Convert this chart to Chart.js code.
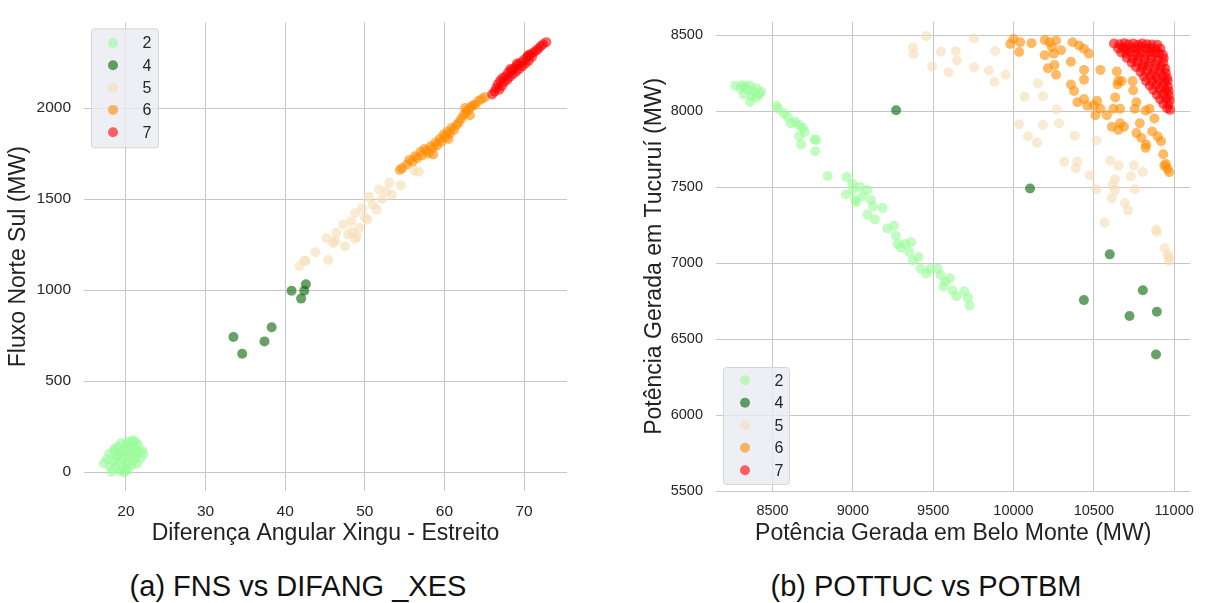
<!DOCTYPE html>
<html>
<head>
<meta charset="utf-8">
<script src="https://cdn.jsdelivr.net/npm/chart.js@4/dist/chart.umd.min.js"></script>
<style>
  body { margin: 0; background: #fff; font-family: "Liberation Sans", Arial, sans-serif; }
  #wrap { position: relative; width: 1205px; height: 603px; overflow: hidden; }
  canvas { position: absolute; top: 0; }
  .caption { position: absolute; top: 572px; font-size: 29px; line-height: 29px; color: #111; white-space: nowrap; transform: translateX(-50%); }
</style>
</head>
<body>
<div id="wrap">
  <canvas id="left" width="600" height="555" style="left:0"></canvas>
  <canvas id="right" width="605" height="555" style="left:600px"></canvas>
  <div class="caption" style="left:298px">(a) FNS vs DIFANG _XES</div>
  <div class="caption" style="left:926px">(b) POTTUC vs POTBM</div>
</div>
<script>
// classes and colours
const classes = ['2', '4', '5', '6', '7'];
const classColors = ['rgba(152,251,152,0.6)', 'rgba(0,100,0,0.6)', 'rgba(245,222,179,0.6)', 'rgba(255,140,0,0.6)', 'rgba(255,0,0,0.6)'];

// (a) [DIFANG_XES, FNS] per class
const fns2 = [[17.2,48],[17.6,70],[17.9,100],[18.0,30],[18.2,0],[18.4,60],[18.5,115],[18.7,25],[18.8,85],[19.0,140],[19.0,50],[19.2,5],[19.3,105],[19.4,160],[19.5,70],[19.6,30],[19.7,125],[19.8,-2],[19.9,90],[20.0,155],[20.1,50],[20.2,115],[20.3,15],[20.4,170],[20.5,80],[20.6,140],[20.7,40],[20.8,105],[20.9,175],[21.0,65],[21.1,130],[21.3,90],[21.4,45],[21.5,150],[21.6,110],[21.8,75],[22.0,120],[22.2,100],[21.2,165],[20.0,10],[18.6,130],[19.1,95]];
const fns4 = [[33.5,742],[34.6,650],[37.4,718],[38.3,796],[40.8,996],[42.0,953],[42.4,996],[42.6,1032]];
const fns5 = [[41.8,1132],[42.4,1163],[42.6,1160],[43.8,1208],[45.4,1165],[45.2,1285],[46.0,1258],[46.4,1315],[47.3,1360],[47.9,1306],[48.3,1378],[48.8,1280],[48.8,1423],[49.3,1342],[49.0,1295],[50.3,1387],[50.5,1512],[51.0,1468],[51.5,1441],[51.8,1552],[52.7,1543],[53.1,1589],[53.4,1525],[54.5,1575],[56.3,1656],[56.8,1650],[47.5,1240],[46.3,1270],[50.0,1400],[49.7,1450],[52.2,1500],[48.4,1320]];
const fns6 = [[54.4,1660],[54.7,1670],[55.3,1690],[55.6,1715],[56.0,1705],[56.3,1735],[56.6,1725],[57.0,1760],[57.2,1740],[57.5,1775],[57.8,1765],[58.0,1750],[58.3,1790],[58.6,1780],[58.9,1810],[59.1,1795],[59.4,1830],[59.6,1815],[59.9,1855],[60.1,1840],[60.4,1870],[60.7,1860],[60.9,1890],[61.2,1880],[61.5,1905],[61.8,1920],[62.1,1940],[62.4,1960],[62.7,1975],[63.0,1990],[63.3,2005],[63.6,2015],[63.9,2020],[64.3,2040],[64.7,2050],[65.1,2060],[62.6,2000],[63.2,1960],[60.5,1830],[58.6,1745]];
const fns7 = [[66.0,2075],[66.3,2090],[66.5,2110],[66.7,2130],[66.9,2100],[67.0,2150],[67.2,2120],[67.3,2165],[67.5,2140],[67.7,2175],[67.9,2155],[68.0,2195],[68.2,2170],[68.4,2205],[68.6,2185],[68.8,2220],[69.0,2200],[69.2,2235],[69.4,2215],[69.6,2250],[69.8,2230],[70.0,2265],[70.2,2245],[70.4,2280],[70.6,2260],[70.8,2295],[71.0,2280],[71.2,2305],[71.5,2315],[71.8,2325],[72.1,2340],[72.4,2350],[72.8,2362],[68.3,2215],[69.1,2245],[70.5,2290]];
const difangTicks = [20, 30, 40, 50, 60, 70];
const fnsTicks = [0, 500, 1000, 1500, 2000];

// (b) [POTBM, POTTUC] per class
const pot2 = [[8268,8166],[8310,8170],[8330,8160],[8358,8168],[8345,8140],[8380,8130],[8400,8150],[8417,8110],[8370,8098],[8320,8110],[8360,8060],[8430,8125],[8300,8150],[8400,8090],[8523,8037],[8535,8015],[8571,7984],[8594,7963],[8613,7920],[8666,7909],[8689,7888],[8666,7834],[8678,7780],[8760,7813],[8772,7810],[8765,7735],[8843,7573],[8961,7567],[8957,7451],[8996,7522],[9043,7501],[9015,7415],[9090,7480],[9113,7415],[9125,7372],[9090,7318],[9137,7286],[9184,7362],[9214,7228],[9256,7245],[9267,7180],[9279,7126],[9326,7126],[9362,7137],[9350,7073],[9409,7040],[9373,7018],[9421,6964],[9456,6931],[9527,6964],[9546,6921],[9575,6878],[9563,6846],[9605,6900],[9645,6782],[9693,6814],[9716,6771],[9726,6720],[9000,7480],[9020,7400],[9060,7440],[8640,7930],[8700,7860],[9300,7100],[9480,6960],[9620,6820]];
const pot4 = [[9269,8005],[10103,7491],[10599,7057],[10805,6821],[10438,6756],[10722,6652],[10892,6679],[10887,6398]];
const pot5 = [[9457,8492],[9374,8419],[9378,8374],[9493,8294],[9548,8391],[9595,8256],[9640,8395],[9648,8333],[9754,8477],[9754,8288],[9846,8267],[9882,8192],[9887,8395],[9951,8239],[10034,7913],[10069,8095],[10090,7834],[10151,8183],[10146,7791],[10183,8098],[10183,7909],[10268,8010],[10284,7920],[10316,7667],[10397,7667],[10381,7838],[10387,7624],[10475,7577],[10518,7806],[10516,7485],[10567,7266],[10603,7674],[10655,7641],[10617,7513],[10631,7481],[10612,7427],[10631,7551],[10693,7395],[10712,7348],[10730,7571],[10749,7641],[10754,7485],[10804,7600],[10887,7219],[10894,7202],[10940,7099],[10966,7037],[10970,7013],[10960,7056]];
const pot6 = [[9980,8442],[10000,8474],[10041,8453],[10035,8389],[10112,8447],[10194,8468],[10224,8453],[10265,8464],[10239,8421],[10194,8368],[10251,8378],[10296,8400],[10214,8282],[10255,8303],[10265,8239],[10357,8325],[10367,8453],[10408,8432],[10439,8410],[10469,8378],[10357,8175],[10377,8132],[10439,8271],[10439,8207],[10398,8058],[10439,8079],[10459,8036],[10500,8036],[10520,8068],[10541,8015],[10510,7972],[10581,7972],[10541,8271],[10643,8261],[10653,8197],[10647,8175],[10673,8197],[10633,8090],[10622,8015],[10663,8015],[10612,7897],[10663,7919],[10688,7897],[10653,7876],[10741,8197],[10745,8137],[10765,8058],[10755,8015],[10786,7919],[10847,8015],[10822,8004],[10877,7951],[10765,7855],[10796,7823],[10826,7780],[10863,7865],[10898,7833],[10918,7801],[10822,7758],[10932,7716],[10949,7652],[10959,7620],[10939,7641],[10969,7598]];
const pot7 = [[10625,8445],[10660,8440],[10690,8447],[10715,8438],[10745,8444],[10775,8436],[10800,8445],[10830,8440],[10860,8438],[10895,8436],[10650,8412],[10682,8418],[10705,8405],[10738,8415],[10768,8408],[10795,8420],[10828,8410],[10855,8415],[10885,8405],[10915,8412],[10670,8385],[10700,8378],[10728,8390],[10760,8375],[10790,8385],[10822,8372],[10850,8388],[10880,8378],[10905,8382],[10930,8370],[10705,8350],[10742,8345],[10778,8355],[10815,8342],[10858,8350],[10898,8340],[10935,8348],[10735,8318],[10772,8322],[10808,8310],[10848,8320],[10888,8312],[10932,8318],[10762,8290],[10800,8285],[10838,8295],[10880,8282],[10918,8290],[10945,8280],[10790,8258],[10830,8262],[10868,8252],[10910,8260],[10948,8250],[10812,8228],[10852,8232],[10890,8222],[10928,8230],[10955,8220],[10825,8198],[10862,8195],[10900,8202],[10940,8192],[10960,8200],[10848,8168],[10888,8172],[10928,8165],[10962,8160],[10870,8138],[10910,8142],[10948,8135],[10966,8130],[10892,8108],[10932,8112],[10968,8100],[10912,8078],[10950,8082],[10972,8070],[10932,8048],[10966,8040],[10955,8018],[10975,8008]];
const potbmTicks = [8500, 9000, 9500, 10000, 10500, 11000];
const pottucTicks = [5500, 6000, 6500, 7000, 7500, 8000, 8500];

const FONT = "'Liberation Sans', Arial, sans-serif";
Chart.defaults.font.family = FONT;
Chart.defaults.color = '#262626';

// seaborn-like framed legend inside the plot area
const boxLegend = {
  id: 'boxLegend',
  afterDatasetsDraw(chart, args, opts) {
    const { ctx, chartArea } = chart;
    const w = opts.w, h = opts.h;
    const x = chartArea.left + 7;
    const y = opts.corner === 'top' ? chartArea.top + 6 : chartArea.bottom - 7 - h;
    ctx.save();
    ctx.beginPath();
    ctx.roundRect(x + 0.5, y + 0.5, w, h, 3);
    ctx.fillStyle = 'rgba(234,234,242,0.8)';
    ctx.fill();
    ctx.strokeStyle = '#d5d5d5';
    ctx.lineWidth = 1;
    ctx.stroke();
    ctx.font = '16px ' + FONT;
    ctx.textAlign = 'center';
    ctx.textBaseline = 'middle';
    chart.data.datasets.forEach((ds, i) => {
      const cy = y + opts.first + i * opts.step;
      ctx.beginPath();
      ctx.arc(x + 22, cy, 5, 0, Math.PI * 2);
      ctx.fillStyle = ds.backgroundColor;
      ctx.fill();
      ctx.fillStyle = '#262626';
      ctx.fillText(ds.label, x + 56, cy + 1);
    });
    ctx.restore();
  }
};

function datasets(groups) {
  return groups.map((pts, i) => ({
    label: classes[i],
    data: pts.map(p => ({ x: p[0], y: p[1] })),
    backgroundColor: classColors[i],
    borderWidth: 0,
    pointRadius: 5,
    order: groups.length - i
  }));
}

function makeChart(id, groups, cfg) {
  new Chart(document.getElementById(id), {
    type: 'scatter',
    data: { datasets: datasets(groups) },
    options: {
      responsive: false,
      animation: false,
      devicePixelRatio: 1,
      layout: { padding: { top: 11, right: cfg.padRight, left: 0, bottom: 0 } },
      plugins: { legend: { display: false }, tooltip: { enabled: false }, boxLegend: cfg.legend },
      scales: {
        x: {
          type: 'linear', min: cfg.xMin, max: cfg.xMax,
          afterBuildTicks: s => { s.ticks = cfg.xTicks.map(v => ({ value: v })); },
          afterFit: s => { s.height = 64; },
          grid: { color: '#c6c6c6', drawTicks: false },
          border: { display: false },
          ticks: { padding: 11, font: { size: cfg.tickSize }, color: '#262626', callback: v => String(v) },
          title: { display: true, text: cfg.xTitle, font: { size: 23 }, color: '#222', padding: { top: 0, bottom: 8 } }
        },
        y: {
          type: 'linear', min: cfg.yMin, max: cfg.yMax,
          afterBuildTicks: s => { s.ticks = cfg.yTicks.map(v => ({ value: v })); },
          afterFit: s => { s.width = cfg.yWidth; },
          grid: { color: '#c6c6c6', drawTicks: false },
          border: { display: false },
          ticks: { padding: 13, font: { size: cfg.tickSize }, color: '#262626', callback: v => String(v) },
          title: { display: true, text: cfg.yTitle, font: { size: 23 }, color: '#222', padding: { top: cfg.yTitlePad, bottom: 0 } }
        }
      }
    },
    plugins: [boxLegend]
  });
}

makeChart('left', [fns2, fns4, fns5, fns6, fns7], {
  xMin: 14.73, xMax: 75.4, yMin: -104, yMax: 2471,
  xTicks: difangTicks, yTicks: fnsTicks,
  xTitle: 'Diferença Angular Xingu - Estreito', yTitle: 'Fluxo Norte Sul (MW)',
  yWidth: 84, padRight: 33, yTitlePad: 5, tickSize: 15.5,
  legend: { corner: 'top', w: 67, h: 119, first: 14.7, step: 22.3 }
});

makeChart('right', [pot2, pot4, pot5, pot6, pot7], {
  xMin: 8148, xMax: 11101, yMin: 5500, yMax: 8588,
  xTicks: potbmTicks, yTicks: pottucTicks,
  xTitle: 'Potência Gerada em Belo Monte (MW)', yTitle: 'Potência Gerada em Tucuruí (MW)',
  yWidth: 116, padRight: 6, yTitlePad: 41, tickSize: 14.5,
  legend: { corner: 'bottom', w: 66, h: 117, first: 13.3, step: 22.5 }
});
</script>
</body>
</html>
